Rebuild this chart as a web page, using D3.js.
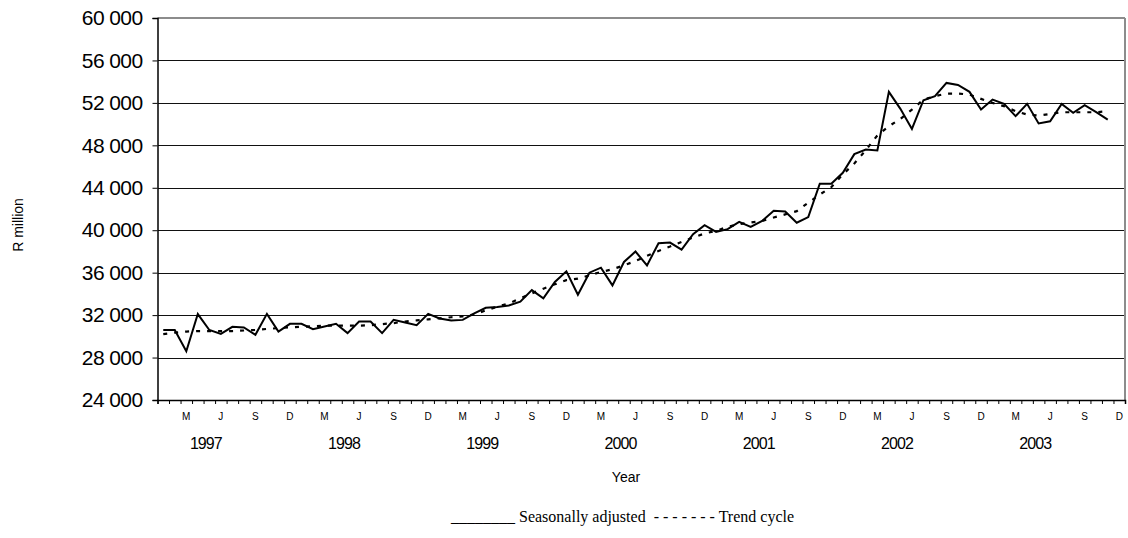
<!DOCTYPE html>
<html>
<head>
<meta charset="utf-8">
<script src="https://cdn.jsdelivr.net/npm/d3@7"></script>
<style>
  html, body { margin: 0; padding: 0; background: #fff; }
  svg { display: block; }
</style>
</head>
<body>
<svg id="chart" width="1128" height="538"></svg>
<script>
// ---- Data (Jan 1997 .. Nov 2003, monthly, R million) ----
const years = [1997, 1998, 1999, 2000, 2001, 2002, 2003];
const monthTickLabels = ["M", "J", "S", "D"];
const yTicks = [24000, 28000, 32000, 36000, 40000, 44000, 48000, 52000, 56000, 60000];

const seasonallyAdjusted = [
  30600, 30600, 28600, 32100, 30600, 30230, 30900, 30830, 30140, 32120, 30450, 31180,
  31180, 30680, 30920, 31180, 30300, 31400, 31400, 30300, 31560, 31300, 31050, 32120,
  31680, 31490, 31550, 32160, 32690, 32760, 32910, 33260, 34360, 33580, 35120, 36130,
  33920, 36000, 36470, 34800, 37010, 37990, 36690, 38770, 38840, 38170, 39620, 40470,
  39840, 40100, 40790, 40320, 40880, 41830, 41770, 40710, 41240, 44380, 44380, 45410,
  47170, 47610, 47510, 53040, 51440, 49550, 52250, 52630, 53880, 53690, 53040, 51370,
  52310, 51910, 50750, 51910, 50060, 50270, 51910, 51060, 51780, 51120, 50430
];
const trendCycle = [
  30200, 30350, 30450, 30500, 30500, 30500, 30500, 30550, 30600, 30700, 30770, 30850,
  30900, 30950, 31000, 31000, 31000, 31000, 31050, 31150, 31250, 31400, 31500, 31600,
  31700, 31800, 31880, 32060, 32440, 32790, 33100, 33580, 34050, 34490, 34900, 35300,
  35430, 35750, 36060, 36320, 36690, 37100, 37580, 38050, 38460, 38900, 39310, 39690,
  39940, 40320, 40570, 40730, 40880, 41200, 41490, 41800, 42590, 43370, 44060, 45260,
  46290, 47550, 48930, 49800, 50490, 51370, 52310, 52630, 52880, 52880, 52780, 52380,
  52000, 51690, 51220, 50900, 50810, 50960, 51120, 51120, 51120, 51120, 51220
];

// ---- Layout ----
const svg = d3.select("#chart");
const L = 157.5, R = 1125, T = 18, B = 400;
const nMonths = years.length * 12;
const months = d3.range(nMonths);

const x = d3.scaleBand().domain(months).range([L, R]).paddingInner(0).paddingOuter(0);
const xEdge = d3.scaleLinear().domain([0, nMonths]).range([L, R]);
const y = d3.scaleLinear().domain([24000, 60000]).range([B, T]);
const cx = i => x(i) + x.bandwidth() / 2;

const fmt = v => d3.format(",")(v).replace(/,/g, " ");

// Gridlines
svg.append("g")
  .attr("transform", `translate(${L},0)`)
  .call(d3.axisLeft(y).tickValues(yTicks.filter(v => v > 24000 && v < 60000)).tickSize(-(R - L)).tickFormat(""))
  .call(g => g.select(".domain").remove())
  .call(g => g.selectAll("line").attr("stroke", "#111").attr("stroke-width", 1).attr("shape-rendering", "crispEdges"));

// Plot border (top, right) in gray
svg.append("line").attr("x1", L).attr("x2", R).attr("y1", y(60000)).attr("y2", y(60000))
  .attr("stroke", "#8c8c8c").attr("stroke-width", 2);
svg.append("line").attr("x1", R).attr("x2", R).attr("y1", T).attr("y2", B)
  .attr("stroke", "#8c8c8c").attr("stroke-width", 2);

// Y axis
svg.append("g")
  .attr("transform", `translate(${L},0)`)
  .call(d3.axisLeft(y).tickValues(yTicks).tickSize(5).tickPadding(10).tickFormat(fmt))
  .call(g => g.select(".domain").attr("stroke", "#000").attr("stroke-width", 1.5))
  .call(g => g.selectAll("line").attr("stroke", "#000"))
  .call(g => g.selectAll("text")
    .attr("font-family", "Liberation Sans, Arial, sans-serif")
    .attr("font-size", 21).attr("letter-spacing", -0.6).attr("fill", "#000"));

// X axis line + month boundary ticks
svg.append("g")
  .attr("transform", `translate(0,${B})`)
  .call(d3.axisBottom(xEdge).tickValues(d3.range(nMonths + 1)).tickSize(4).tickFormat(""))
  .call(g => g.select(".domain").attr("stroke", "#000").attr("stroke-width", 1.5))
  .call(g => g.selectAll("line").attr("stroke", "#000"));

// Month labels (every quarter: M, J, S, D)
const quarterMonths = months.filter(i => i % 3 === 2);
svg.append("g")
  .attr("transform", `translate(0,${B})`)
  .call(d3.axisBottom(x).tickValues(quarterMonths).tickSize(0).tickPadding(13)
    .tickFormat(i => monthTickLabels[((i % 12) - 2) / 3]))
  .call(g => g.select(".domain").remove())
  .call(g => g.selectAll("text")
    .attr("font-family", "Liberation Sans, Arial, sans-serif")
    .attr("font-size", 10).attr("fill", "#000"));

// Year labels
svg.append("g").selectAll("text").data(years).join("text")
  .attr("x", (d, k) => x(k * 12 + 4) + x.bandwidth() * 0.2)
  .attr("y", 449)
  .attr("text-anchor", "middle")
  .attr("font-family", "Liberation Sans, Arial, sans-serif")
  .attr("font-size", 16).attr("letter-spacing", -0.9)
  .text(d => d);

// Axis titles
svg.append("text")
  .attr("x", 626).attr("y", 482)
  .attr("text-anchor", "middle")
  .attr("font-family", "Liberation Sans, Arial, sans-serif")
  .attr("font-size", 14)
  .text("Year");

svg.append("text")
  .attr("transform", "translate(23,225) rotate(-90)")
  .attr("text-anchor", "middle")
  .attr("font-family", "Liberation Sans, Arial, sans-serif")
  .attr("font-size", 14)
  .text("R million");

// Lines
const line = d3.line().x((d, i) => cx(i)).y(d => y(d));
svg.append("path").datum(trendCycle)
  .attr("d", line).attr("fill", "none")
  .attr("stroke", "#000").attr("stroke-width", 2.2).attr("stroke-dasharray", "4,7");
svg.append("path").datum(seasonallyAdjusted)
  .attr("d", line).attr("fill", "none")
  .attr("stroke", "#000").attr("stroke-width", 2).attr("stroke-linejoin", "miter");

// Legend (text-based, like the original)
const leg = svg.append("g")
  .attr("font-family", "Liberation Serif, Times New Roman, serif")
  .attr("font-size", 16).attr("fill", "#000");
leg.append("text").attr("x", 451).attr("y", 522)
  .style("white-space", "pre")
  .text("________ Seasonally adjusted  - - - - - - - Trend cycle");
</script>
</body>
</html>
